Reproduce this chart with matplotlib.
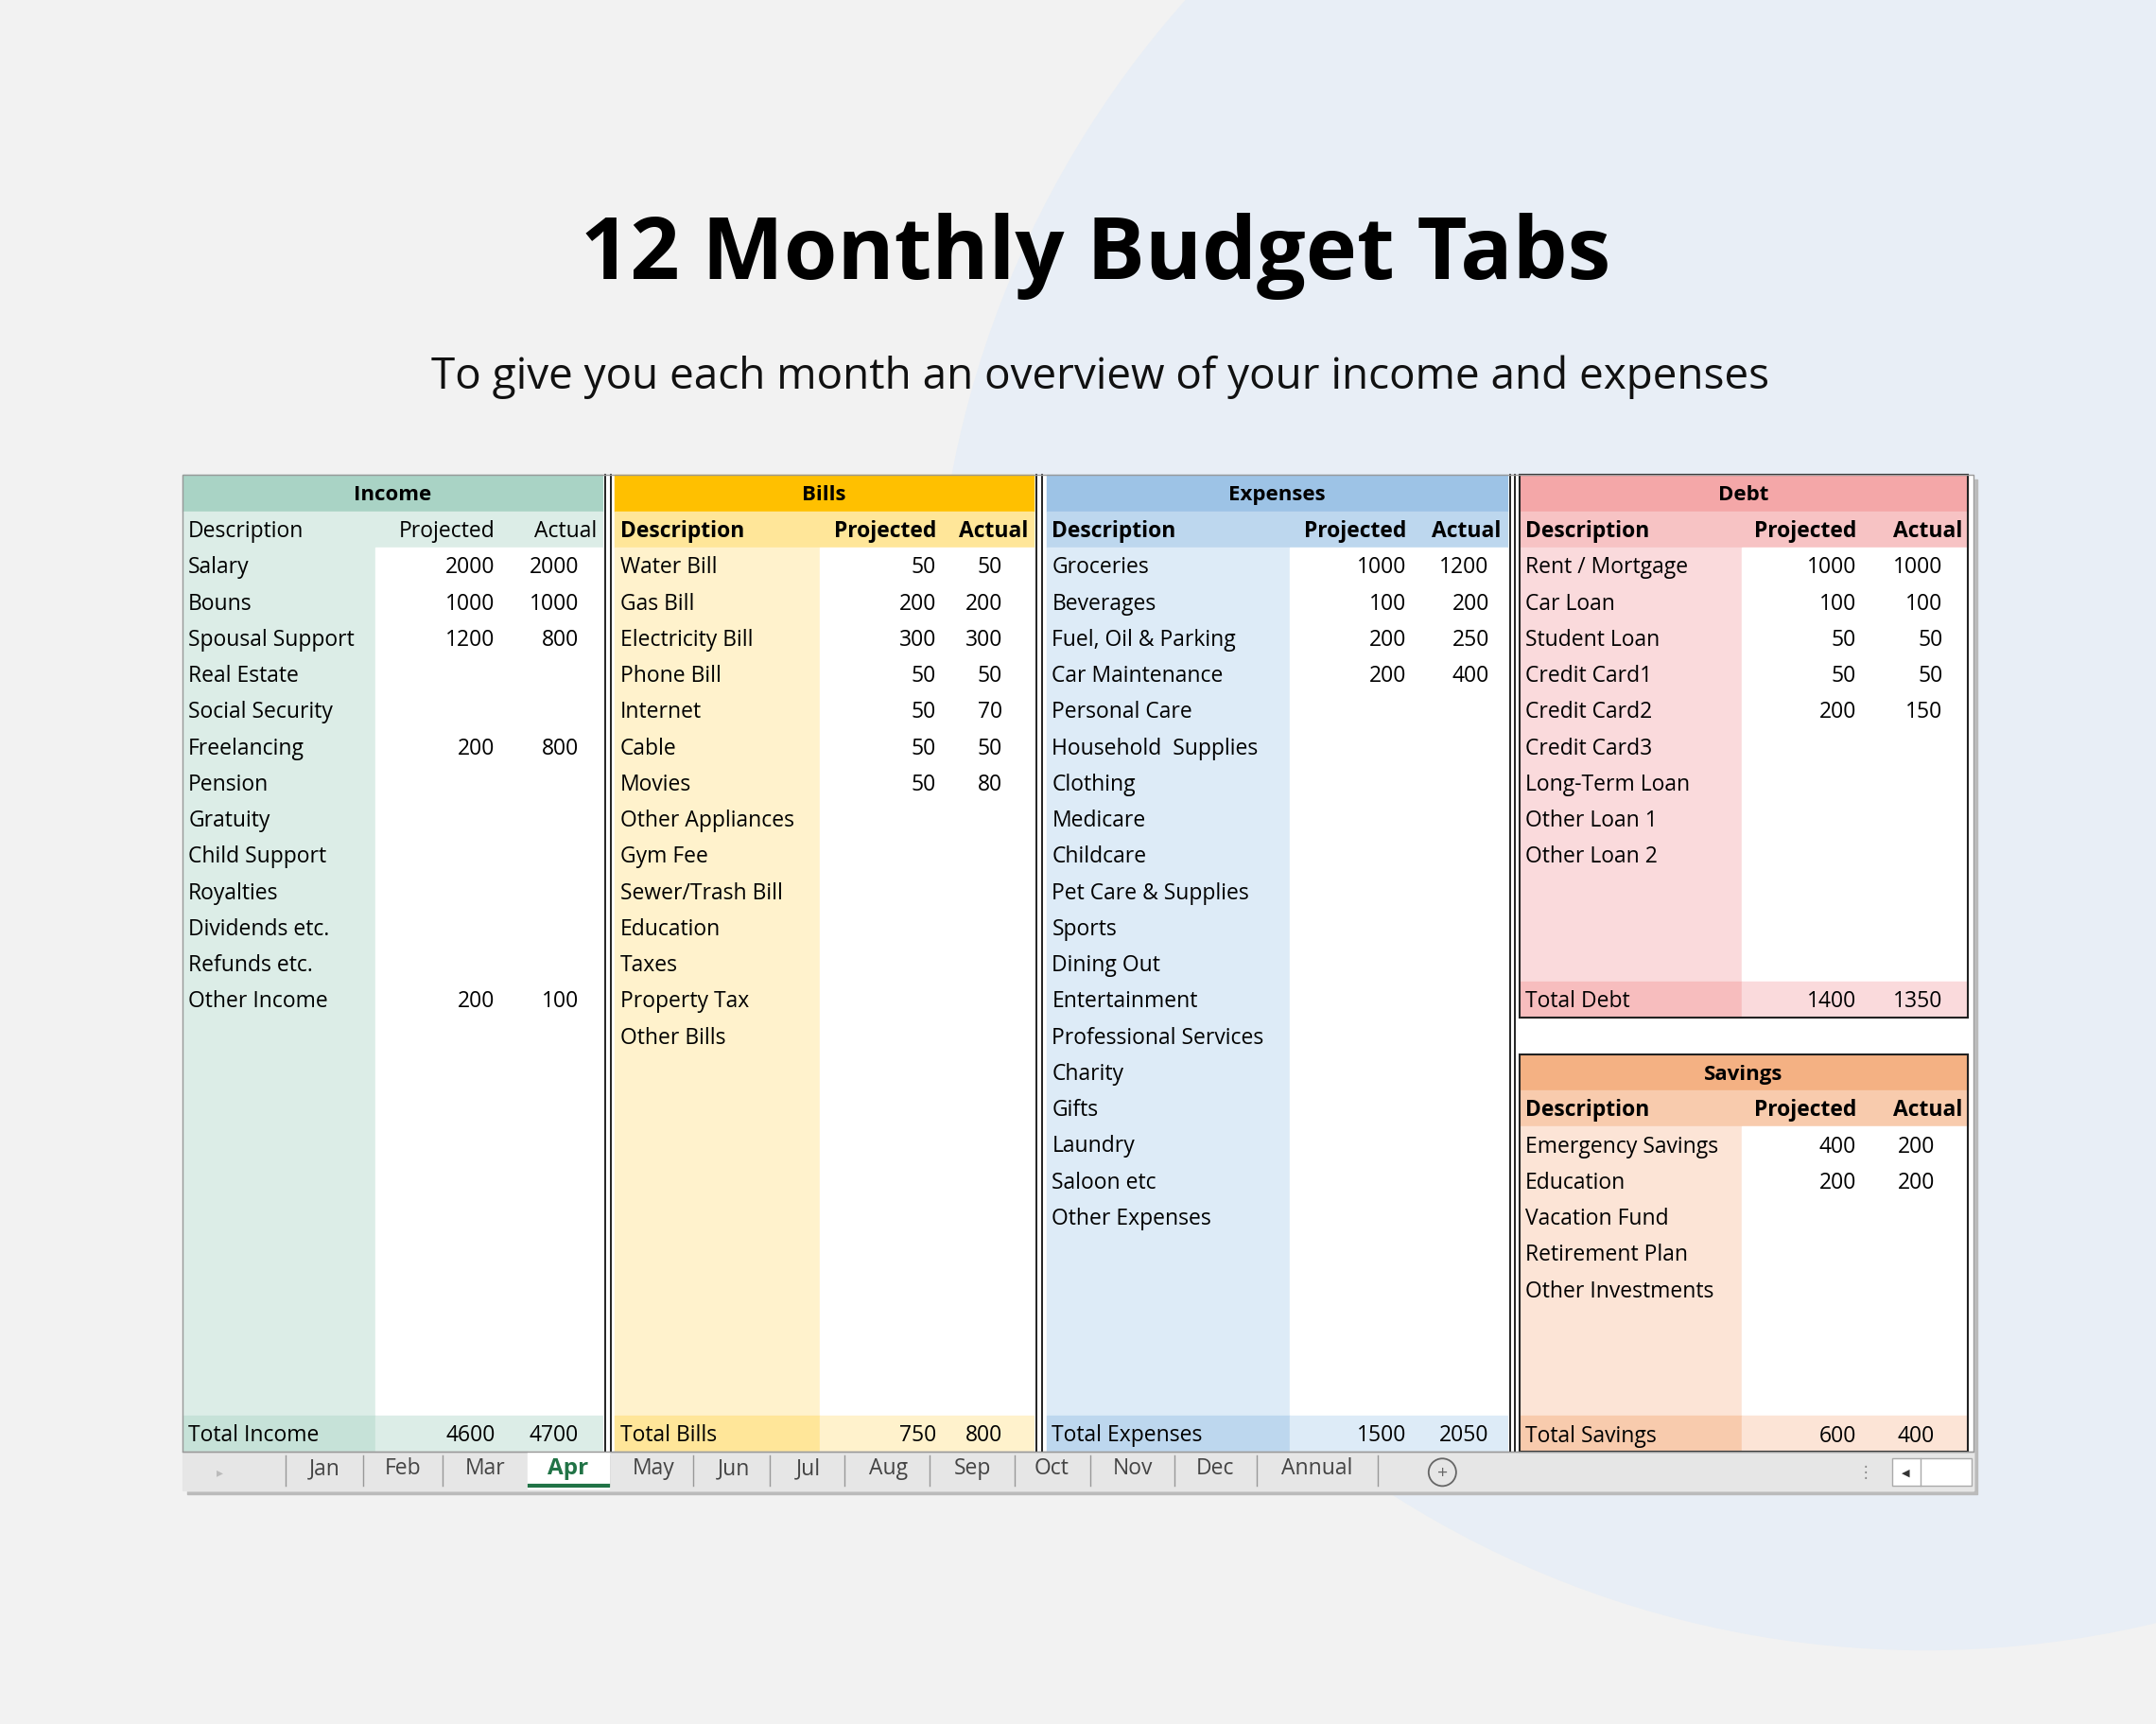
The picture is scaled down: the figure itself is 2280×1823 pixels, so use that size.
import matplotlib
matplotlib.use("Agg")
import matplotlib.pyplot as plt
from matplotlib.patches import Rectangle, Circle

plt.rcParams['font.family'] = ['Open Sans', 'DejaVu Sans']

title = "12 Monthly Budget Tabs"
subtitle = "To give you each month an overview of your income and expenses"

income_desc = ["Salary", "Bouns", "Spousal Support", "Real Estate", "Social Security", "Freelancing",
               "Pension", "Gratuity", "Child Support", "Royalties", "Dividends etc.", "Refunds etc.", "Other Income"]
income_proj = [2000, 1000, 1200, None, None, 200, None, None, None, None, None, None, 200]
income_act = [2000, 1000, 800, None, None, 800, None, None, None, None, None, None, 100]
income_total = ("Total Income", 4600, 4700)

bills_desc = ["Water Bill", "Gas Bill", "Electricity Bill", "Phone Bill", "Internet", "Cable", "Movies",
              "Other Appliances", "Gym Fee", "Sewer/Trash Bill", "Education", "Taxes", "Property Tax", "Other Bills"]
bills_proj = [50, 200, 300, 50, 50, 50, 50]
bills_act = [50, 200, 300, 50, 70, 50, 80]
bills_total = ("Total Bills", 750, 800)

exp_desc = ["Groceries", "Beverages", "Fuel, Oil & Parking", "Car Maintenance", "Personal Care",
            "Household  Supplies", "Clothing", "Medicare", "Childcare", "Pet Care & Supplies", "Sports",
            "Dining Out", "Entertainment", "Professional Services", "Charity", "Gifts", "Laundry",
            "Saloon etc", "Other Expenses"]
exp_proj = [1000, 100, 200, 200]
exp_act = [1200, 200, 250, 400]
exp_total = ("Total Expenses", 1500, 2050)

debt_desc = ["Rent / Mortgage", "Car Loan", "Student Loan", "Credit Card1", "Credit Card2", "Credit Card3",
             "Long-Term Loan", "Other Loan 1", "Other Loan 2"]
debt_proj = [1000, 100, 50, 50, 200]
debt_act = [1000, 100, 50, 50, 150]
debt_total = ("Total Debt", 1400, 1350)

sav_desc = ["Emergency Savings", "Education", "Vacation Fund", "Retirement Plan", "Other Investments"]
sav_proj = [400, 200]
sav_act = [200, 200]
sav_total = ("Total Savings", 600, 400)

tabs = ["Jan", "Feb", "Mar", "Apr", "May", "Jun", "Jul", "Aug", "Sep", "Oct", "Nov", "Dec", "Annual"]
active_tab = "Apr"

W, H = 1568, 1254
fig = plt.figure(figsize=(22.8, 18.24), dpi=100)
ax = fig.add_axes([0, 0, 1, 1])
ax.set_xlim(0, W); ax.set_ylim(H, 0); ax.axis('off')
ax.add_patch(Rectangle((0, 0), W, H, color='#F2F2F2', zorder=0))
ax.add_patch(Circle((1400, 480), 720, color='#E8EEF6', zorder=0.5))

ax.text(797, 186, title, ha='center', va='center', fontsize=66, fontweight='bold', color='#000000')
ax.text(800, 274, subtitle, ha='center', va='center', fontsize=33, color='#111111')

FS = 16.5
RH = 26.3
# shadow & background of sheet
ax.add_patch(Rectangle((136, 349), 1302, 738, color='#BBBBBB', zorder=1))
ax.add_patch(Rectangle((133, 346), 1302, 738, color='white', zorder=1.2))


def block(x0, x1, x2, x3, y0, nrows, name, desc, proj, act, total, cols, sub_bold=True, vx=None):
    head, sub, dcol, tot_d, tot_v = cols
    ax.add_patch(Rectangle((x0, y0), x3 - x0, RH, color=head, zorder=2))
    ax.add_patch(Rectangle((x0, y0 + RH), x3 - x0, RH, color=sub, zorder=2))
    yb = y0 + 2 * RH
    ax.add_patch(Rectangle((x0, yb), x1 - x0, RH * nrows, color=dcol, zorder=2))
    ax.add_patch(Rectangle((x1, yb), x3 - x1, RH * nrows, color='white', zorder=2))
    yt = yb + RH * nrows
    ax.add_patch(Rectangle((x0, yt), x1 - x0, RH, color=tot_d, zorder=2))
    ax.add_patch(Rectangle((x1, yt), x3 - x1, RH, color=tot_v, zorder=2))
    ax.text((x0 + x3) / 2, y0 + RH / 2 + 1, name, ha='center', va='center', fontsize=FS - 0.5,
            fontweight='bold', zorder=3)
    fw = 'bold' if sub_bold else 'normal'
    ax.text(x0 + 4, y0 + 1.5 * RH + 1, "Description", ha='left', va='center', fontsize=FS, fontweight=fw, zorder=3)
    ax.text(vx[0] + 0, y0 + 1.5 * RH + 1, "Projected", ha='right', va='center', fontsize=FS, fontweight=fw, zorder=3)
    ax.text(x3 - 4, y0 + 1.5 * RH + 1, "Actual", ha='right', va='center', fontsize=FS, fontweight=fw, zorder=3)
    for i, d in enumerate(desc):
        yc = yb + (i + 0.5) * RH + 1
        ax.text(x0 + 4, yc, d, ha='left', va='center', fontsize=FS, zorder=3)
        if i < len(proj) and proj[i] is not None:
            ax.text(vx[0], yc, str(proj[i]), ha='right', va='center', fontsize=FS, zorder=3)
        if i < len(act) and act[i] is not None:
            ax.text(vx[1], yc, str(act[i]), ha='right', va='center', fontsize=FS, zorder=3)
    yc = yt + RH / 2 + 1
    ax.text(x0 + 4, yc, total[0], ha='left', va='center', fontsize=FS, zorder=3)
    ax.text(vx[0], yc, str(total[1]), ha='right', va='center', fontsize=FS, zorder=3)
    ax.text(vx[1], yc, str(total[2]), ha='right', va='center', fontsize=FS, zorder=3)
    return yt + RH


Y0 = 346
NR = 24
block(133, 273, 365, 438, Y0, NR, "Income", income_desc, income_proj, income_act, income_total,
      ('#A9D3C5', '#DCEDE7', '#DCEDE7', '#C6E2D8', '#DCEDE7'), sub_bold=False, vx=(360, 421))
block(447, 596, 686, 752, Y0, NR, "Bills", bills_desc, bills_proj, bills_act, bills_total,
      ('#FFC000', '#FFE699', '#FFF2CC', '#FFE699', '#FFF2CC'), vx=(681, 729))
block(761, 938, 1030, 1096, Y0, NR, "Expenses", exp_desc, exp_proj, exp_act, exp_total,
      ('#9DC3E6', '#BDD7EE', '#DDEBF7', '#BDD7EE', '#DDEBF7'), vx=(1023, 1083))
ye = block(1105, 1267, 1357, 1431, Y0, 12, "Debt", debt_desc, debt_proj, debt_act, debt_total,
           ('#F4A7A8', '#F7C3C4', '#FADADC', '#F7BDBE', '#FADADC'), vx=(1350, 1413))
ax.add_patch(Rectangle((1105, Y0), 326, ye - Y0, fill=False, ec='#222222', lw=1.5, zorder=4))
ys = block(1105, 1267, 1357, 1431, 767, 8, "Savings", sav_desc, sav_proj, sav_act, sav_total,
           ('#F4B183', '#F8CBAD', '#FCE4D6', '#F8CBAD', '#FCE4D6'), vx=(1350, 1407))
ax.add_patch(Rectangle((1105, 767), 326, ys - 767, fill=False, ec='#222222', lw=1.5, zorder=4))

# separators between blocks
for xs in (440, 444, 754, 758, 1098, 1102):
    ax.plot([xs, xs], [Y0, 1056], color='#111111', lw=1.3, zorder=4)
ax.add_patch(Rectangle((133, Y0), 1302, 1056 - Y0, fill=False, ec='#999999', lw=1, zorder=4))

# tab bar
ax.add_patch(Rectangle((133, 1056), 1302, 28, color='#E6E6E6', zorder=2))
ax.plot([133, 1435], [1056, 1056], color='#AAAAAA', lw=1, zorder=3)
ax.text(160, 1071, "\u25B8", ha='center', va='center', fontsize=10, color='#BBBBBB', zorder=3)
tab_x = [236, 293, 353, 413, 475, 534, 588, 646, 707, 765, 824, 884, 958]
seps = [208, 264, 322, 443, 504, 560, 614, 676, 738, 793, 854, 914, 1002]
for s in seps:
    ax.plot([s, s], [1059, 1081], color='#999999', lw=1, zorder=3)
for t, xc in zip(tabs, tab_x):
    if t == active_tab:
        ax.add_patch(Rectangle((384, 1056), 59, 27, color='white', zorder=3))
        ax.plot([385, 442], [1081, 1081], color='#217346', lw=3, zorder=4)
        ax.text(xc, 1068, t, ha='center', va='center', fontsize=FS + 1, fontweight='bold', color='#217346', zorder=5)
    else:
        ax.text(xc, 1068, t, ha='center', va='center', fontsize=FS, color='#444444', zorder=5)
ax.add_patch(Circle((1049, 1071), 10, fill=False, ec='#666666', lw=1.3, zorder=4))
ax.text(1049, 1071, "+", ha='center', va='center', fontsize=14, color='#666666', zorder=5)
ax.text(1357, 1071, "\u22EE", ha='center', va='center', fontsize=12, color='#888888', zorder=5)
ax.add_patch(Rectangle((1376, 1061), 58, 20, fc='white', ec='#AAAAAA', lw=1, zorder=4))
ax.plot([1397, 1397], [1061, 1081], color='#AAAAAA', lw=1, zorder=5)
ax.text(1386, 1071, "\u25C0", ha='center', va='center', fontsize=8, color='#333333', zorder=5)

fig.savefig("out.png", dpi=100)
